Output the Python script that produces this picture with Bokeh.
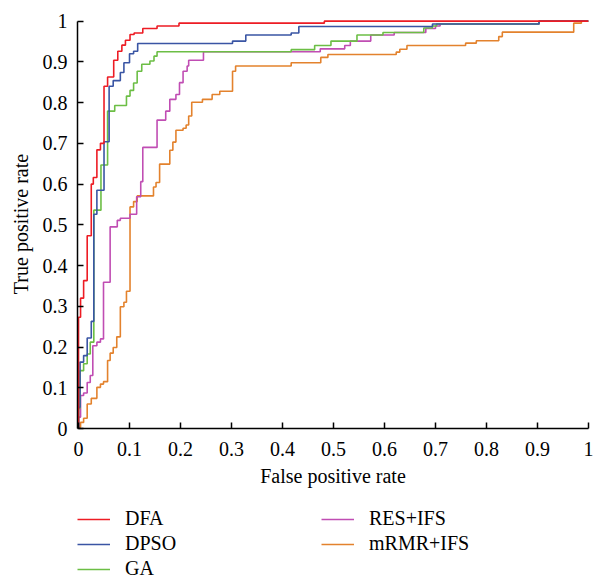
from bokeh.plotting import figure
from bokeh.layouts import column
from bokeh.models import Range1d, FixedTicker, Legend, LegendItem
from bokeh.embed import file_html
from bokeh.resources import INLINE

# ---- data (ROC step corners: at fpr[i] the curve rises to tpr[i]) ----
dfa_fpr = [0, 0, 0.004, 0.010, 0.017, 0.025, 0.029, 0.036, 0.043, 0.050, 0.057, 0.069, 0.077, 0.085, 0.092,
           0.101, 0.109, 0.126, 0.154, 0.197, 0.482, 1.0]
dfa_tpr = [0, 0.273, 0.320, 0.363, 0.473, 0.600, 0.616, 0.684, 0.700, 0.840, 0.863, 0.904, 0.926, 0.941, 0.953,
           0.967, 0.971, 0.982, 0.988, 0.995, 1.0, 1.0]

dpso_fpr = [0, 0, 0.003, 0.010, 0.017, 0.025, 0.030, 0.036, 0.050, 0.060, 0.068, 0.082, 0.089, 0.100, 0.108,
            0.116, 0.302, 0.328, 0.417, 0.432, 0.694, 0.903, 1.0]
dpso_tpr = [0, 0.052, 0.163, 0.179, 0.222, 0.263, 0.526, 0.585, 0.704, 0.840, 0.854, 0.874, 0.898, 0.920, 0.926,
            0.945, 0.951, 0.966, 0.971, 0.987, 0.993, 1.0, 1.0]

ga_fpr = [0, 0, 0.003, 0.010, 0.017, 0.023, 0.030, 0.044, 0.057, 0.071, 0.094, 0.101, 0.108, 0.115, 0.124,
          0.140, 0.148, 0.154, 0.417, 0.463, 0.495, 0.546, 0.597, 0.677, 0.694, 0.702, 0.903, 1.0]
ga_tpr = [0, 0.049, 0.142, 0.159, 0.183, 0.212, 0.536, 0.647, 0.779, 0.793, 0.816, 0.830, 0.848, 0.877, 0.894,
          0.902, 0.914, 0.925, 0.930, 0.940, 0.951, 0.966, 0.972, 0.983, 0.988, 0.993, 1.0, 1.0]

res_fpr = [0, 0, 0.004, 0.010, 0.017, 0.023, 0.028, 0.036, 0.043, 0.049, 0.062, 0.076, 0.082, 0.101, 0.114,
           0.122, 0.126, 0.154, 0.171, 0.179, 0.191, 0.198, 0.205, 0.213, 0.216, 0.245, 0.474, 0.522, 0.533,
           0.573, 0.619, 0.681, 0.700, 0.709, 0.903, 1.0]
res_tpr = [0, 0.028, 0.081, 0.087, 0.113, 0.130, 0.203, 0.212, 0.220, 0.359, 0.495, 0.511, 0.516, 0.526, 0.569,
           0.606, 0.690, 0.757, 0.779, 0.808, 0.820, 0.849, 0.877, 0.890, 0.904, 0.925, 0.932, 0.940, 0.951,
           0.966, 0.972, 0.982, 0.988, 0.993, 1.0, 1.0]

mrmr_fpr = [0, 0, 0.004, 0.010, 0.017, 0.025, 0.036, 0.043, 0.049, 0.057, 0.062, 0.068, 0.075, 0.082, 0.089,
            0.094, 0.101, 0.108, 0.115, 0.147, 0.152, 0.159, 0.179, 0.185, 0.191, 0.205, 0.211, 0.216, 0.222,
            0.243, 0.262, 0.277, 0.302, 0.308, 0.417, 0.475, 0.489, 0.623, 0.630, 0.644, 0.759, 0.780, 0.824,
            0.831, 0.971, 0.986, 1.0]
mrmr_tpr = [0, 0.003, 0.015, 0.025, 0.060, 0.074, 0.101, 0.109, 0.115, 0.167, 0.185, 0.199, 0.225, 0.299, 0.310,
            0.337, 0.544, 0.557, 0.571, 0.593, 0.604, 0.649, 0.683, 0.703, 0.732, 0.737, 0.745, 0.767, 0.801,
            0.808, 0.820, 0.828, 0.877, 0.890, 0.898, 0.911, 0.918, 0.924, 0.931, 0.940, 0.946, 0.952, 0.962,
            0.973, 0.995, 1.0, 1.0]

series_names = ["DFA", "DPSO", "GA", "RES+IFS", "mRMR+IFS"]
series_colors = ["#ED1C24", "#3A55A4", "#6CBE45", "#C04DB3", "#E3822D"]

x_ticks = [0, 0.1, 0.2, 0.3, 0.4, 0.5, 0.6, 0.7, 0.8, 0.9, 1]
x_tick_labels = ["0", "0.1", "0.2", "0.3", "0.4", "0.5", "0.6", "0.7", "0.8", "0.9", "1"]
y_ticks = [0, 0.1, 0.2, 0.3, 0.4, 0.5, 0.6, 0.7, 0.8, 0.9, 1]
y_tick_labels = ["0", "0.1", "0.2", "0.3", "0.4", "0.5", "0.6", "0.7", "0.8", "0.9", "1"]

FONT = "Liberation Serif"
FS = "20px"

xs = [dfa_fpr, dpso_fpr, ga_fpr, res_fpr, mrmr_fpr]
ys = [dfa_tpr, dpso_tpr, ga_tpr, res_tpr, mrmr_tpr]

# ---------------- main chart ----------------
p = figure(width=596, height=500, output_backend="svg", toolbar_location=None,
           x_range=Range1d(-0.002, 1.0), y_range=Range1d(0, 1.004),
           min_border_left=77, min_border_right=8, min_border_top=19, min_border_bottom=72)
p.xgrid.visible = False
p.ygrid.visible = False
p.outline_line_color = None

for i in reversed(range(5)):
    p.step(xs[i], ys[i], mode="after", line_color=series_colors[i], line_width=1.6)

for ax, ticks, labels in ((p.xaxis[0], x_ticks, x_tick_labels), (p.yaxis[0], y_ticks, y_tick_labels)):
    ax.ticker = FixedTicker(ticks=ticks)
    ax.major_label_overrides = {t: l for t, l in zip(ticks, labels)}
    ax.bounds = (0, 1)
    ax.axis_line_color = "black"
    ax.axis_line_width = 1.5
    ax.major_tick_line_color = "black"
    ax.major_tick_line_width = 1.5
    ax.major_tick_in = 6
    ax.major_tick_out = 0
    ax.minor_tick_line_color = None
    ax.major_label_text_font = FONT
    ax.major_label_text_font_size = FS
    ax.major_label_text_color = "black"
    ax.axis_label_text_font = FONT
    ax.axis_label_text_font_size = FS
    ax.axis_label_text_font_style = "normal"
    ax.axis_label_text_color = "black"

p.xaxis[0].axis_label = "False positive rate"
p.yaxis[0].axis_label = "True positive rate"
p.xaxis[0].major_label_standoff = 13
p.xaxis[0].axis_label_standoff = 6
p.yaxis[0].major_label_standoff = 10
p.yaxis[0].axis_label_standoff = 8

# ---------------- legend strip ----------------
# The series are re-drawn here only so that the legend has glyphs; the view range
# of this strip lies outside the data, so only the legend is visible.
q = figure(width=596, height=80, output_backend="svg", toolbar_location=None,
           x_range=Range1d(5, 6), y_range=Range1d(5, 6),
           x_axis_type=None, y_axis_type=None,
           min_border_left=77, min_border_right=0, min_border_top=7, min_border_bottom=0)
q.xgrid.visible = False
q.ygrid.visible = False
q.outline_line_color = None

legend_renderers = [q.step(xs[i], ys[i], mode="after", line_color=series_colors[i], line_width=1.6)
                    for i in range(5)]
legend = Legend(
    items=[LegendItem(label=series_names[i], renderers=[legend_renderers[i]]) for i in range(5)],
    location="top_left", orientation="vertical", nrows=3,
    glyph_width=33, glyph_height=20, label_height=20, label_standoff=15, label_width=194,
    spacing=2, padding=0, margin=0, border_line_color=None, background_fill_alpha=0,
    label_text_font=FONT, label_text_font_size=FS, label_text_color="black",
)
q.add_layout(legend)

layout = column(p, q, spacing=0)
open("out.html", "w").write(file_html(layout, INLINE))
